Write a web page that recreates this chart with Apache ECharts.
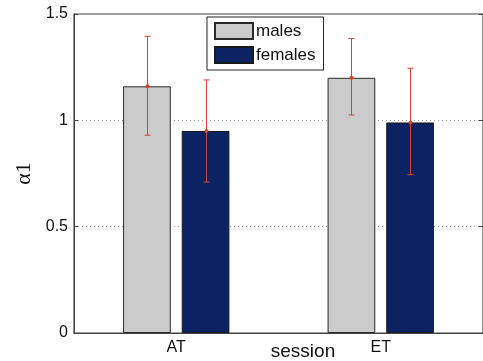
<!DOCTYPE html>
<html>
<head>
<meta charset="utf-8">
<script src="https://cdn.jsdelivr.net/npm/echarts@6/dist/echarts.min.js"></script>
<style>
  html, body { margin: 0; padding: 0; background: #fff; }
  #main { width: 483px; height: 361px; }
</style>
</head>
<body>
<div id="main"></div>
<script>
// data
var sessions = ['AT', 'ET'];
var malesMean = [1.16, 1.20];
var malesLow = [0.93, 1.025];
var malesHigh = [1.395, 1.385];
var femalesMean = [0.95, 0.99];
var femalesLow = [0.71, 0.745];
var femalesHigh = [1.19, 1.245];
var yTicks = [0, 0.5, 1, 1.5];

var catGap = 0.48, barGap = 0.23;
var barFrac = (1 - catGap) / (2 + barGap);
var offFrac = barFrac * (1 + barGap) / 2;

function errData(low, high, mean) {
  return sessions.map(function (s, i) { return [i, low[i], high[i], mean[i]]; });
}

function errRender(sign) {
  return function (params, api) {
    var band = api.size([1, 0])[0];
    var dx = sign * offFrac * band;
    var lo = api.coord([api.value(0), api.value(1)]);
    var hi = api.coord([api.value(0), api.value(2)]);
    var mid = api.coord([api.value(0), api.value(3)]);
    var x = Math.round(lo[0] + dx) + 0.5;
    var cap = 3;
    var st = { stroke: '#d8432c', lineWidth: 1 };
    return {
      type: 'group',
      children: [
        { type: 'line', shape: { x1: x, y1: lo[1], x2: x, y2: hi[1] }, style: st },
        { type: 'line', shape: { x1: x - cap, y1: hi[1], x2: x + cap, y2: hi[1] }, style: st },
        { type: 'line', shape: { x1: x - cap, y1: lo[1], x2: x + cap, y2: lo[1] }, style: st },
        { type: 'circle', shape: { cx: x, cy: mid[1], r: 2 }, style: { fill: '#d8432c' } }
      ]
    };
  };
}

var myChart = echarts.init(document.getElementById('main'));

var option = {
  animation: false,
  textStyle: { fontFamily: 'Liberation Sans, Arial, sans-serif' },
  grid: {
    left: 74, right: -1, top: 14, bottom: 28,
    show: true, borderColor: '#444', borderWidth: 1.2, backgroundColor: 'transparent'
  },
  title: {
    text: 'session',
    left: 298, top: 337, textAlign: 'center',
    textStyle: { fontSize: 19, fontWeight: 'normal', color: '#111', fontFamily: 'Liberation Sans' }
  },
  legend: {
    data: ['males', 'females'],
    orient: 'vertical',
    left: 207, top: 17,
    padding: [5, 8, 6, 7],
    itemGap: 6,
    itemWidth: 38, itemHeight: 16,
    backgroundColor: '#fff',
    borderColor: '#222', borderWidth: 1,
    borderRadius: 0,
    icon: 'rect',
    textStyle: { fontSize: 17, color: '#111', padding: [0, 0, 0, -2] }
  },
  xAxis: {
    type: 'category',
    data: sessions,
    axisLine: { lineStyle: { color: '#444', width: 1 } },
    axisTick: { inside: true, alignWithLabel: true, length: 4, lineStyle: { color: '#444' } },
    axisLabel: { fontSize: 16, color: '#111', margin: 7 }
  },
  yAxis: [{
    type: 'value',
    min: yTicks[0], max: yTicks[yTicks.length - 1], interval: 0.5,
    name: 'α1',
    nameLocation: 'middle',
    nameGap: 35,
    nameTextStyle: { fontSize: 22, color: '#111', fontFamily: 'Liberation Serif' },
    axisLine: { show: true, lineStyle: { color: '#444', width: 1 } },
    axisTick: { show: true, inside: true, length: 4, lineStyle: { color: '#444' } },
    axisLabel: { fontSize: 16, color: '#111', margin: 6 },
    splitLine: { show: true, lineStyle: { color: '#999', type: [1, 3], width: 1 } }
  }, {
    type: 'value',
    position: 'right',
    min: yTicks[0], max: yTicks[yTicks.length - 1], interval: 0.5,
    axisLine: { show: true, lineStyle: { color: '#444' } },
    axisTick: { show: true, inside: true, length: 4, lineStyle: { color: '#444' } },
    axisLabel: { show: false },
    splitLine: { show: false }
  }],
  series: [
    {
      name: 'males', type: 'bar', data: malesMean,
      barCategoryGap: (catGap * 100) + '%', barGap: (barGap * 100) + '%',
      itemStyle: { color: '#cbcbcb', borderColor: '#2a2a2a', borderWidth: 1 }
    },
    {
      name: 'females', type: 'bar', data: femalesMean,
      itemStyle: { color: '#0b2362', borderColor: '#1a1a1a', borderWidth: 1 }
    },
    {
      name: 'males err', type: 'custom', z: 10,
      renderItem: errRender(-1),
      data: errData(malesLow, malesHigh, malesMean)
    },
    {
      name: 'females err', type: 'custom', z: 10,
      renderItem: errRender(1),
      data: errData(femalesLow, femalesHigh, femalesMean)
    }
  ]
};

myChart.setOption(option);
</script>
</body>
</html>
